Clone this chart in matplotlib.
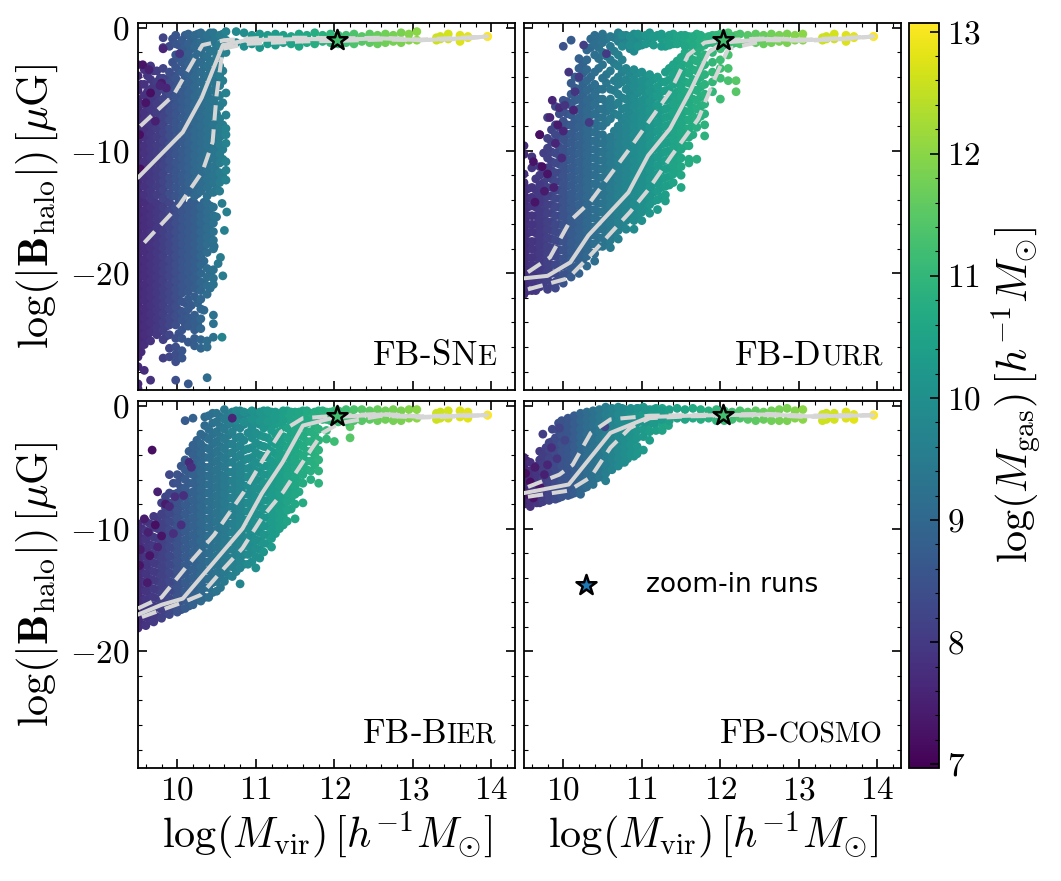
import numpy as np
import matplotlib
matplotlib.use('Agg')
import matplotlib.pyplot as plt
from matplotlib.colors import Normalize
from matplotlib.cm import ScalarMappable
from matplotlib.ticker import MultipleLocator
from matplotlib.offsetbox import TextArea, HPacker, AnchoredOffsetbox

plt.rcParams['mathtext.fontset'] = 'cm'
plt.rcParams['font.family'] = ['cmr10', 'DejaVu Sans']
plt.rcParams['axes.unicode_minus'] = False
plt.rcParams['axes.formatter.use_mathtext'] = True

GAS_MIN, GAS_MAX = 6.97, 13.07

# ------------------- FB-SNe : upper part of the cloud
sne_mass = [9.50, 9.58, 9.66, 9.74, 9.82, 9.90, 9.98, 10.06, 10.14, 10.22, 10.30, 10.38, 10.46, 10.54, 10.62]
sne_gas = [7.7, 7.85, 7.95, 8.05, 8.2, 8.4, 8.55, 8.7, 8.85, 9.0, 9.1, 9.25, 9.35, 9.5, 9.65]
sne_logb = [
    [-3.0, -3.9, -5.1, -5.8, -6.5, -7.2, -7.9, -8.5, -9.2, -9.9, -10.5, -11.2, -11.9, -12.6, -13.2, -13.9],
    [-3.4, -4.6, -5.5, -6.2, -6.9, -7.5, -8.2, -8.9, -9.6, -10.2, -10.9, -11.5, -12.2, -12.9, -13.6],
    [-3.1, -4.2, -5.0, -5.9, -6.6, -7.2, -7.9, -8.6, -9.3, -9.9, -10.6, -11.3, -11.9, -12.6, -13.3, -13.9],
    [-3.5, -4.4, -5.3, -6.2, -6.9, -7.6, -8.2, -8.9, -9.6, -10.2, -10.9, -11.6, -12.2, -12.9, -13.6],
    [-0.8, -1.6, -3.3, -4.1, -5.0, -5.8, -6.5, -7.2, -7.9, -8.5, -9.2, -9.9, -10.5, -11.2, -11.9, -12.5, -13.2, -13.9],
    [-1.5, -3.6, -4.5, -5.3, -6.1, -6.8, -7.5, -8.2, -8.8, -9.5, -10.2, -10.8, -11.5, -12.2, -12.8, -13.5],
    [-0.6, -1.3, -2.2, -3.2, -4.1, -4.9, -5.6, -6.3, -7.0, -7.7, -8.3, -9.0, -9.7, -10.3, -11.0, -11.7, -12.3, -13.0, -13.7],
    [-1.0, -1.9, -2.8, -3.6, -4.4, -5.2, -5.9, -6.6, -7.3, -8.0, -8.6, -9.3, -10.0, -10.6, -11.3, -12.0, -12.6, -13.3, -13.9],
    [-0.5, -1.3, -2.1, -2.9, -3.7, -4.5, -5.3, -6.0, -6.7, -7.4, -8.1, -8.7, -9.4, -10.1, -10.7, -11.4, -12.1, -12.7, -13.4],
    [-0.6, -1.5, -2.4, -3.2, -4.0, -4.8, -5.6, -6.3, -7.0, -7.7, -8.4, -9.0, -9.7, -10.4, -11.0, -11.7, -12.4, -13.0, -13.7],
    [-0.4, -1.2, -2.0, -2.8, -3.6, -4.4, -5.2, -5.9, -6.6, -7.3, -8.0, -8.7, -9.3, -10.0, -10.7, -11.3, -12.0, -12.7, -13.3],
    [-0.6, -1.4, -2.3, -3.1, -3.9, -4.7, -5.5, -6.2, -6.9, -7.6, -8.3, -9.0, -9.6, -10.3, -11.0, -11.6, -12.3, -13.0, -13.7],
    [-0.4, -1.1, -1.9, -2.8, -3.6, -4.4, -5.1, -5.9, -6.6, -7.2, -7.9, -8.6, -9.3, -10.0, -10.6, -11.3, -12.0, -12.6, -13.4],
    [-0.6, -1.4, -2.3, -3.1, -3.9, -4.7, -5.5, -6.4, -7.4, -8.1, -8.9, -9.5, -10.3, -11.0, -11.8, -12.6, -13.3],
    [-0.3, -1.0, -2.0, -5.3, -7.1, -8.2, -8.7, -9.4, -10.9, -11.6, -12.4],
]
sne_fill_mass = [9.54, 9.62, 9.70, 9.78, 9.86, 9.94, 10.02, 10.10, 10.18, 10.26, 10.34, 10.42, 10.50, 10.58]
sne_fill_gas = [7.8, 7.9, 8.0, 8.12, 8.3, 8.48, 8.62, 8.78, 8.92, 9.05, 9.18, 9.3, 9.42, 9.55]
sne_fill_logb = [
    [-4.6, -6.2, -6.9, -7.6, -8.2, -8.9, -9.6, -10.2, -10.9, -11.6, -12.2, -12.9, -13.6],
    [-3.9, -5.2, -5.8, -6.5, -7.1, -7.8, -8.5, -9.1, -9.8, -10.5, -11.1, -11.8, -12.4, -13.1],
    [-3.5, -4.7, -5.6, -6.3, -6.9, -7.6, -8.2, -8.9, -9.6, -10.3, -10.9, -11.6, -12.2, -12.9, -13.6],
    [-4.1, -5.0, -5.9, -6.6, -7.3, -7.9, -8.6, -9.3, -9.9, -10.6, -11.3, -11.9, -12.6, -13.3],
    [-4.2, -5.4, -6.2, -6.9, -7.5, -8.2, -8.9, -9.5, -10.2, -10.9, -11.5, -12.2, -12.8, -13.5],
    [-0.9, -2.8, -3.9, -4.7, -5.5, -6.2, -6.9, -7.6, -8.3, -9.0, -9.6, -10.3, -11.0, -11.6, -12.3, -13.0, -13.7],
    [-1.4, -2.5, -3.5, -4.5, -5.3, -6.0, -6.6, -7.3, -8.0, -8.6, -9.3, -10.0, -10.7, -11.3, -12.0, -12.6, -13.3],
    [-0.6, -1.5, -2.4, -3.2, -4.0, -4.8, -5.6, -6.3, -7.0, -7.7, -8.3, -9.0, -9.7, -10.4, -11.0, -11.7, -12.4, -13.1],
    [-0.9, -1.7, -2.6, -3.4, -4.2, -5.0, -5.7, -6.4, -7.1, -7.8, -8.5, -9.1, -9.8, -10.5, -11.2, -11.8, -12.5, -13.2],
    [-0.5, -1.2, -2.0, -2.8, -3.6, -4.4, -5.2, -6.0, -6.7, -7.4, -8.1, -8.7, -9.4, -10.1, -10.7, -11.4, -12.1, -12.8, -13.5],
    [-0.8, -1.6, -2.4, -3.2, -4.0, -4.8, -5.6, -6.3, -7.0, -7.7, -8.4, -9.0, -9.7, -10.4, -11.0, -11.7, -12.4, -13.0],
    [-0.4, -1.0, -1.9, -2.7, -3.5, -4.3, -5.1, -5.8, -6.5, -7.2, -7.9, -8.6, -9.3, -9.9, -10.6, -11.3, -12.0, -12.7, -13.4],
    [-0.7, -1.5, -2.4, -3.2, -4.0, -4.8, -5.6, -6.3, -7.0, -7.7, -8.4, -9.0, -9.7, -10.4, -11.1, -11.7, -12.4, -13.1],
    [-0.5, -1.1, -2.0, -3.5, -4.3, -6.1, -7.9, -8.7, -9.9, -10.7, -12.1],
]

# ------------------- FB-SNe : lower part of the cloud
sne_low_mass = [9.50, 9.58, 9.66, 9.74, 9.82, 9.90, 9.98, 10.06, 10.14, 10.22, 10.30, 10.38, 10.46]
sne_low_gas = [7.65, 7.75, 7.85, 7.95, 8.1, 8.25, 8.4, 8.55, 8.65, 8.78, 8.95, 9.1, 9.25]
sne_low_logb = [
    [-14.5, -15.2, -15.9, -16.5, -17.2, -17.9, -18.5, -19.2, -19.9, -20.5, -21.2, -21.9, -22.5, -23.2, -23.9, -24.5, -25.2, -26.0, -26.8, -27.6, -29.0, -29.4],
    [-14.2, -14.9, -15.6, -16.2, -16.9, -17.6, -18.2, -18.9, -19.6, -20.2, -20.9, -21.6, -22.2, -22.9, -23.6, -24.3, -25.0, -25.8, -27.9],
    [-14.6, -15.3, -15.9, -16.6, -17.3, -17.9, -18.6, -19.3, -19.9, -20.6, -21.3, -21.9, -22.6, -23.3, -24.0, -24.8, -25.5, -28.7],
    [-14.3, -15.0, -15.6, -16.3, -17.0, -17.6, -18.3, -19.0, -19.6, -20.3, -21.0, -21.6, -22.3, -23.0, -23.7, -24.4, -25.0],
    [-14.6, -15.3, -15.9, -16.6, -17.3, -17.9, -18.6, -19.3, -19.9, -20.6, -21.3, -21.9, -22.6, -23.3, -24.0, -24.6, -25.4, -26.9],
    [-14.2, -14.9, -15.6, -16.2, -16.9, -17.6, -18.2, -18.9, -19.6, -20.2, -20.9, -21.6, -22.2, -22.9, -23.6, -24.2, -25.0, -26.1, -26.8],
    [-14.6, -15.3, -15.9, -16.6, -17.3, -17.9, -18.6, -19.3, -19.9, -20.6, -21.3, -21.9, -22.7, -23.5, -24.2, -25.3, -26.0, -26.6, -27.2, -28.7],
    [-14.3, -15.0, -15.6, -16.3, -17.0, -17.6, -18.3, -19.0, -19.6, -20.3, -21.0, -21.6, -22.3, -23.1, -23.8, -24.6, -25.3, -26.3, -26.9],
    [-14.6, -15.3, -15.9, -16.6, -17.3, -17.9, -18.6, -19.3, -19.9, -20.7, -21.5, -22.1, -22.9, -23.6, -24.3, -25.6, -29.0],
    [-14.3, -15.0, -15.6, -16.3, -17.0, -17.6, -18.3, -19.0, -19.6, -20.4, -21.2, -21.9, -23.4, -24.0, -24.6, -25.3, -25.9],
    [-14.6, -15.3, -15.9, -16.6, -17.3, -17.9, -18.6, -19.3, -20.0, -20.7, -21.4, -22.1, -22.9, -23.7, -24.5, -25.4, -26.1],
    [-14.3, -15.0, -15.6, -16.3, -17.0, -17.6, -18.3, -19.6, -20.3, -21.0, -21.7, -25.5, -26.0, -28.5],
    [-14.6, -15.3, -15.9, -16.6, -17.3, -18.0, -19.7, -20.4, -20.9, -23.4, -24.1, -25.2],
]
sne_low_fill_mass = [9.54, 9.62, 9.70, 9.78, 9.86, 9.94, 10.02, 10.10, 10.18, 10.26, 10.34, 10.42]
sne_low_fill_gas = [7.7, 7.8, 7.9, 8.02, 8.18, 8.32, 8.48, 8.6, 8.72, 8.86, 9.02, 9.18]
sne_low_fill_logb = [
    [-14.2, -14.9, -15.5, -16.2, -16.9, -17.5, -18.2, -18.9, -19.5, -20.2, -20.9, -21.5, -22.2, -22.9, -23.5, -24.2, -24.8, -25.5, -26.4],
    [-14.5, -15.2, -15.9, -16.5, -17.2, -17.9, -18.5, -19.2, -19.9, -20.5, -21.2, -21.9, -22.5, -23.2, -23.9, -24.5, -25.2],
    [-14.2, -14.9, -15.5, -16.2, -16.9, -17.5, -18.2, -18.9, -19.5, -20.2, -20.9, -21.5, -22.2, -22.9, -23.5, -24.2],
    [-14.5, -15.2, -15.9, -16.5, -17.2, -17.9, -18.5, -19.2, -19.9, -20.5, -21.2, -21.9, -22.5, -23.2, -23.9, -24.7],
    [-14.2, -14.9, -15.5, -16.2, -16.9, -17.5, -18.2, -18.9, -19.5, -20.2, -20.9, -21.5, -22.2, -22.9, -23.6, -24.3, -25.1],
    [-14.5, -15.2, -15.9, -16.5, -17.2, -17.9, -18.5, -19.2, -19.9, -20.5, -21.2, -21.9, -22.5, -23.2, -23.9],
    [-14.2, -14.9, -15.5, -16.2, -16.9, -17.5, -18.2, -18.9, -19.5, -20.2, -20.9, -21.5, -22.2, -23.0, -23.7, -24.9],
    [-14.5, -15.2, -15.9, -16.5, -17.2, -17.9, -18.5, -19.2, -19.9, -20.5, -21.2, -22.4, -23.2, -24.1],
    [-14.2, -14.9, -15.5, -16.2, -16.9, -17.5, -18.2, -18.9, -19.5, -20.2, -21.0, -22.6, -23.7],
    [-14.5, -15.2, -15.9, -16.5, -17.2, -17.9, -18.5, -19.2, -19.9, -20.6, -21.3, -22.4, -24.1],
    [-14.2, -14.9, -15.5, -16.2, -16.9, -17.5, -18.2, -19.0, -20.8, -23.0],
    [-14.5, -15.2, -15.9, -16.5, -17.1, -20.0, -21.2],
]
sne_far_mass = [10.50, 10.57, 10.63, 10.55, 10.52, 10.58, 10.60, 10.57, 10.47]
sne_far_logb = [-15.4, -14.3, -15.0, -18.7, -19.2, -20.2, -16.5, -25.2, -17.8]
sne_far_gas = [9.3, 9.5, 9.6, 9.5, 9.4, 9.5, 9.6, 9.7, 9.2]
sne_dark_mass = [9.82, 10.03, 9.56, 9.80, 9.66, 9.72, 9.52, 9.60, 9.53, 9.78, 9.64, 9.86]
sne_dark_logb = [-1.7, -2.1, -3.0, -4.5, -5.3, -7.6, -8.7, -6.1, -11.5, -4.7, -3.4, -4.9]
sne_dark_gas = [7.6, 7.9, 7.3, 7.4, 7.2, 7.5, 7.2, 7.3, 7.2, 7.6, 7.5, 7.6]

# ------------------- FB-Durr
durr_mass = [9.50, 9.60, 9.70, 9.80, 9.90, 10.00, 10.10, 10.20, 10.30, 10.40, 10.50, 10.60, 10.70, 10.80, 10.90, 11.00, 11.10, 11.20, 11.30, 11.40, 11.50, 11.60, 11.70, 11.80, 11.90, 12.00, 12.10, 12.20]
durr_gas = [7.75, 7.9, 8.0, 8.15, 8.3, 8.5, 8.7, 8.85, 9.0, 9.15, 9.3, 9.45, 9.6, 9.75, 9.9, 10.0, 10.15, 10.3, 10.4, 10.5, 10.6, 10.7, 10.8, 10.9, 11.0, 11.15, 11.3, 11.45]
durr_logb = [
    [-9.6, -10.3, -11.9, -12.6, -13.5, -14.2, -15.0, -15.6, -16.4, -17.0, -17.7, -18.4, -19.0, -19.7, -20.3, -21.0, -21.7],
    [-10.5, -11.4, -13.0, -13.8, -14.5, -15.3, -16.0, -16.6, -17.4, -18.0, -18.7, -19.3, -20.0, -20.7, -21.4],
    [-8.7, -11.3, -12.0, -12.8, -13.6, -14.2, -15.0, -15.7, -16.3, -17.0, -17.7, -18.4, -19.0, -19.7, -20.4, -21.1],
    [-7.3, -9.0, -9.8, -10.6, -11.4, -12.2, -13.0, -13.7, -14.4, -15.1, -15.8, -16.4, -17.1, -17.8, -18.4, -19.1, -19.8, -20.5, -21.3],
    [-6.4, -7.9, -8.7, -9.4, -10.2, -11.0, -11.8, -12.5, -13.2, -13.9, -14.6, -15.3, -16.0, -16.6, -17.3, -18.0, -18.6, -19.3, -20.0, -20.7, -21.2],
    [-1.5, -5.9, -6.8, -7.6, -8.4, -9.1, -9.9, -10.6, -11.3, -12.0, -12.7, -13.4, -14.1, -14.8, -15.4, -16.1, -16.8, -17.4, -18.1, -18.8, -19.4, -20.1, -20.8],
    [-1.0, -4.5, -5.4, -6.3, -7.1, -7.9, -8.6, -9.3, -10.0, -10.7, -11.4, -12.1, -12.8, -13.5, -14.1, -14.8, -15.5, -16.1, -16.8, -17.5, -18.2, -18.9, -19.6, -20.3],
    [-2.5, -3.3, -4.1, -5.0, -5.8, -6.6, -7.3, -8.0, -8.8, -9.5, -10.2, -10.9, -11.6, -12.3, -13.0, -13.7, -14.4, -15.1, -15.7, -16.4, -17.1, -17.8, -18.5, -19.2, -20.0],
    [-1.8, -2.6, -3.4, -4.3, -5.1, -5.9, -6.7, -7.4, -8.2, -8.9, -9.6, -10.3, -11.0, -11.7, -12.4, -13.1, -13.8, -14.5, -15.1, -15.8, -16.5, -17.2, -17.9, -18.6, -19.4],
    [-0.6, -1.3, -2.2, -3.6, -4.6, -5.4, -6.2, -7.0, -7.8, -8.5, -9.2, -9.9, -10.6, -11.3, -12.0, -12.7, -13.4, -14.1, -14.8, -15.5, -16.2, -16.9, -17.6, -18.4, -19.0],
    [-0.5, -1.2, -2.0, -3.0, -4.1, -5.0, -5.8, -6.6, -7.3, -8.0, -8.7, -9.4, -10.1, -10.8, -11.5, -12.2, -12.9, -13.6, -14.3, -15.0, -15.7, -16.4, -17.1, -17.8],
    [-0.7, -1.5, -2.6, -3.5, -5.0, -5.8, -6.5, -7.4, -8.9, -9.6, -10.3, -11.0, -11.7, -12.4, -13.1, -13.8, -14.5, -15.2, -15.9, -16.6, -17.3, -17.9],
    [-0.4, -1.1, -2.2, -3.1, -4.0, -4.6, -5.4, -6.1, -7.1, -8.0, -8.8, -9.5, -10.2, -10.9, -11.6, -12.3, -13.0, -13.7, -14.4, -15.1, -15.8, -16.5, -17.2],
    [-0.6, -1.3, -3.3, -4.2, -5.0, -5.8, -6.5, -7.2, -8.0, -8.7, -9.4, -10.1, -10.8, -11.5, -12.2, -12.9, -13.6, -14.3, -15.0, -15.7, -16.4],
    [-0.5, -1.1, -1.9, -3.4, -4.2, -4.8, -5.7, -6.4, -7.3, -8.0, -8.7, -9.4, -10.1, -10.8, -11.5, -12.2, -12.9, -13.6, -14.3, -15.0, -15.7, -16.4],
    [-0.7, -1.4, -3.6, -4.3, -5.0, -5.9, -6.6, -7.3, -8.0, -8.7, -9.4, -10.1, -10.8, -11.5, -12.2, -12.9, -13.6, -14.3, -15.0, -15.7],
    [-0.4, -1.2, -3.8, -4.5, -5.2, -6.0, -6.7, -7.4, -8.1, -8.8, -9.5, -10.2, -10.9, -11.6, -12.3, -13.0, -13.7, -14.4, -15.1],
    [-0.6, -4.0, -4.8, -5.5, -6.3, -7.0, -7.7, -8.4, -9.1, -9.8, -10.5, -11.2, -11.9, -12.6, -13.3, -14.0, -14.8],
    [-0.8, -1.5, -3.6, -4.4, -5.1, -5.9, -6.6, -7.3, -8.0, -8.7, -9.4, -10.1, -10.8, -11.5, -12.2, -12.9, -13.6, -14.1],
    [-0.5, -1.3, -3.0, -3.8, -4.6, -5.4, -6.2, -6.9, -7.7, -8.4, -9.1, -9.8, -10.5, -11.2, -11.9, -12.6],
    [-0.6, -1.2, -2.4, -3.2, -4.0, -4.8, -5.6, -6.4, -7.1, -7.8, -8.5, -9.2, -9.9, -10.6, -11.3, -12.0, -13.0],
    [-0.7, -1.4, -2.2, -3.0, -3.7, -4.5, -5.3, -6.1, -6.8, -7.5, -8.2, -8.9, -9.6, -10.7, -11.0],
    [-0.5, -1.1, -1.9, -2.7, -3.5, -4.3, -5.1, -5.9, -6.6, -7.5, -8.1, -10.7],
    [-0.8, -1.4, -2.2, -3.0, -3.8, -4.6, -5.4, -6.2, -7.0, -7.9, -8.8],
    [-0.6, -1.2, -2.0, -2.8, -3.6, -4.4, -5.2],
    [-0.5, -1.0, -1.7, -2.6, -3.3, -4.1, -5.8],
    [-0.4, -1.1, -2.2, -3.3, -4.3],
    [-0.6, -1.2, -4.3, -5.2],
]
durr_fill_mass = [9.55, 9.65, 9.75, 9.85, 9.95, 10.05, 10.15, 10.25, 10.35, 10.45, 10.55, 10.65, 10.75, 10.85, 10.95, 11.05, 11.15, 11.25, 11.35, 11.45, 11.55, 11.65, 11.75]
durr_fill_gas = [7.82, 7.95, 8.08, 8.22, 8.4, 8.6, 8.78, 8.92, 9.08, 9.22, 9.38, 9.52, 9.68, 9.82, 9.95, 10.08, 10.22, 10.35, 10.45, 10.55, 10.65, 10.75, 10.85]
durr_fill_logb = [
    [-13.1, -13.9, -14.6, -15.3, -16.0, -16.7, -17.4, -18.0, -18.7, -19.4, -20.0, -20.7, -21.4],
    [-12.3, -13.2, -13.9, -14.6, -15.3, -16.0, -16.7, -17.4, -18.1, -18.7, -19.4, -20.1, -20.8, -21.4],
    [-10.2, -11.8, -12.6, -13.3, -14.0, -14.7, -15.4, -16.1, -16.7, -17.4, -18.1, -18.8, -19.4, -20.1, -20.8],
    [-8.3, -9.3, -10.1, -10.9, -11.6, -12.3, -13.0, -13.7, -14.4, -15.1, -15.8, -16.5, -17.2, -17.9, -18.6, -19.3, -20.0, -20.8],
    [-7.0, -8.1, -8.9, -9.7, -10.4, -11.1, -11.8, -12.5, -13.2, -13.9, -14.6, -15.3, -16.0, -16.7, -17.4, -18.1, -18.8, -19.5, -20.3],
    [-6.0, -7.0, -7.9, -8.7, -9.4, -10.1, -10.8, -11.5, -12.2, -12.9, -13.6, -14.3, -15.0, -15.7, -16.4, -17.1, -17.8, -18.5, -19.2, -20.0],
    [-4.0, -4.9, -5.9, -6.7, -7.5, -8.2, -8.9, -9.6, -10.3, -11.0, -11.7, -12.4, -13.1, -13.8, -14.5, -15.2, -15.9, -16.6, -17.3, -18.0, -18.7, -19.5],
    [-2.9, -3.7, -4.6, -5.4, -6.2, -7.0, -7.7, -8.4, -9.1, -9.8, -10.5, -11.2, -11.9, -12.6, -13.3, -14.0, -14.7, -15.4, -16.1, -16.8, -17.5, -18.2, -18.9],
    [-0.9, -1.6, -4.0, -4.9, -5.7, -6.4, -7.1, -7.8, -8.5, -9.2, -9.9, -10.6, -11.3, -12.0, -12.7, -13.4, -14.1, -14.8, -15.5, -16.2, -16.9, -17.6, -18.3],
    [-0.8, -1.6, -2.5, -3.3, -5.0, -5.8, -6.6, -7.3, -8.0, -8.7, -9.4, -10.1, -10.8, -11.5, -12.2, -12.9, -13.6, -14.3, -15.0, -15.7, -16.4, -17.1, -17.8],
    [-0.9, -2.3, -3.8, -4.5, -6.1, -6.8, -7.7, -9.1, -9.8, -10.5, -11.2, -11.9, -12.6, -13.3, -14.0, -14.7, -15.4, -16.1, -16.8, -17.4],
    [-0.8, -1.9, -2.9, -4.3, -5.1, -6.3, -7.0, -8.4, -9.3, -10.0, -10.7, -11.4, -12.1, -12.8, -13.5, -14.2, -14.9, -15.6, -16.3, -16.9],
    [-0.9, -2.6, -3.6, -4.4, -5.7, -6.6, -7.5, -8.4, -9.1, -9.8, -10.5, -11.2, -11.9, -12.6, -13.3, -14.0, -14.7, -15.4, -16.1],
    [-0.8, -1.7, -3.7, -4.5, -5.3, -6.1, -6.9, -7.6, -8.3, -9.0, -9.7, -10.4, -11.1, -11.8, -12.5, -13.2, -13.9, -14.6, -15.4],
    [-0.9, -3.7, -4.5, -5.3, -6.1, -6.9, -7.6, -8.3, -9.0, -9.7, -10.4, -11.1, -11.8, -12.5, -13.2, -13.9, -14.6, -15.3],
    [-0.7, -4.0, -4.7, -5.5, -6.3, -7.0, -7.7, -8.4, -9.1, -9.8, -10.5, -11.2, -11.9, -12.6, -13.3, -14.0, -14.7],
    [-0.8, -4.2, -5.0, -5.7, -6.4, -7.1, -7.8, -8.5, -9.2, -9.9, -10.6, -11.3, -12.0, -12.7, -13.4, -14.1],
    [-0.9, -4.4, -5.2, -5.9, -6.7, -7.4, -8.1, -8.8, -9.5, -10.2, -10.9, -11.6, -12.3, -13.0, -13.8],
    [-1.0, -3.3, -4.2, -5.0, -5.8, -6.5, -7.2, -7.9, -8.6, -9.3, -10.0, -10.7, -11.4, -12.1, -12.8],
    [-0.9, -2.7, -3.5, -4.4, -5.2, -5.9, -6.6, -7.3, -8.0, -8.8, -9.5, -10.2, -10.9, -11.6],
    [-1.0, -2.0, -2.8, -3.6, -4.4, -5.2, -6.0, -6.8, -7.5, -8.2, -8.9, -9.6],
    [-1.0, -1.8, -2.6, -3.4, -4.2, -5.0, -5.8, -6.5, -7.2, -7.9, -8.7],
    [-0.9, -1.6, -2.4, -3.2, -4.0, -4.8, -5.6, -6.4, -7.2],
]
durr_dark_mass = [9.70, 9.86, 9.95, 10.00, 10.07, 10.15, 10.20, 10.13, 10.33, 10.26, 9.83, 9.93, 9.62, 9.73, 9.80, 9.90, 9.98, 9.64, 9.76, 9.88, 10.55, 10.02]
durr_dark_logb = [-8.7, -5.9, -6.5, -8.4, -3.6, -5.2, -4.0, -6.7, -7.7, -1.4, -7.3, -7.9, -10.9, -11.3, -11.9, -9.4, -10.6, -14.2, -13.3, -13.0, -2.1, -6.3]
durr_dark_gas = [7.2, 7.6, 7.7, 7.6, 7.9, 7.9, 8.0, 7.6, 8.0, 8.1, 7.6, 7.4, 7.3, 7.2, 7.3, 7.6, 7.7, 7.3, 7.4, 7.5, 8.0, 7.9]

# ------------------- FB-Bier
bier_mass = [9.50, 9.60, 9.70, 9.80, 9.90, 10.00, 10.10, 10.20, 10.30, 10.40, 10.50, 10.60, 10.70, 10.80, 10.90, 11.00, 11.10, 11.20, 11.30, 11.40, 11.50, 11.60, 11.70, 11.80, 11.90, 12.00, 12.10, 12.20]
bier_gas = [7.75, 7.9, 8.0, 8.15, 8.3, 8.5, 8.7, 8.85, 9.0, 9.15, 9.3, 9.45, 9.6, 9.75, 9.9, 10.0, 10.15, 10.3, 10.4, 10.5, 10.6, 10.7, 10.8, 10.9, 11.0, 11.15, 11.3, 11.45]
bier_logb = [
    [-9.6, -10.4, -11.1, -11.8, -12.5, -13.2, -13.9, -14.6, -15.3, -16.0, -16.7, -17.4, -18.1],
    [-9.4, -10.2, -10.9, -11.6, -12.3, -13.0, -13.7, -14.4, -15.1, -15.8, -16.5, -17.2, -17.9],
    [-9.0, -9.9, -10.7, -11.4, -12.1, -12.8, -13.5, -14.2, -14.9, -15.6, -16.3, -17.0, -17.6],
    [-7.9, -8.8, -9.6, -10.3, -11.0, -11.7, -12.4, -13.1, -13.8, -14.5, -15.2, -15.9, -16.6, -17.3],
    [-5.6, -7.1, -7.9, -8.7, -9.4, -10.1, -10.8, -11.5, -12.2, -12.9, -13.6, -14.3, -15.0, -15.7, -16.4, -17.0],
    [-5.6, -6.3, -7.1, -7.8, -8.5, -9.2, -9.9, -10.6, -11.3, -12.0, -12.7, -13.4, -14.1, -14.8, -15.5, -16.2, -16.8],
    [-1.2, -4.4, -5.2, -6.0, -6.7, -7.4, -8.1, -8.8, -9.5, -10.2, -10.9, -11.6, -12.3, -13.0, -13.7, -14.4, -15.1, -15.8, -16.5],
    [-1.0, -3.2, -4.0, -4.8, -5.6, -6.3, -7.0, -7.7, -8.4, -9.1, -9.8, -10.5, -11.2, -11.9, -12.6, -13.3, -14.0, -14.7, -15.4, -16.2],
    [-2.3, -3.1, -3.9, -4.7, -5.4, -6.1, -6.8, -7.5, -8.2, -8.9, -9.6, -10.3, -11.0, -11.7, -12.4, -13.1, -13.8, -14.5, -15.2, -15.9],
    [-0.8, -1.9, -2.7, -3.5, -4.2, -5.0, -5.7, -6.4, -7.1, -7.8, -8.5, -9.2, -9.9, -10.6, -11.3, -12.0, -12.7, -13.4, -14.1, -14.8, -15.6],
    [-0.6, -1.3, -2.1, -2.9, -3.7, -4.5, -5.2, -5.9, -6.6, -7.3, -8.0, -8.7, -9.4, -10.1, -10.8, -11.5, -12.2, -12.9, -13.6, -14.3, -15.1],
    [-0.3, -1.1, -1.9, -2.7, -3.5, -4.3, -5.0, -5.8, -6.5, -7.2, -7.9, -8.6, -9.3, -10.0, -10.7, -11.4, -12.1, -12.8, -13.5, -14.3],
    [-0.5, -1.3, -2.1, -3.1, -3.8, -4.6, -5.4, -6.1, -6.8, -7.5, -8.2, -8.9, -9.6, -10.3, -11.0, -11.7, -12.4, -13.1, -13.9],
    [-0.4, -1.0, -1.8, -2.5, -3.2, -4.0, -4.8, -5.5, -6.2, -6.9, -7.6, -8.3, -9.0, -9.7, -10.4, -11.1, -11.8, -12.5, -13.2, -14.5],
    [-0.6, -1.3, -2.2, -3.5, -4.3, -5.1, -5.8, -6.5, -7.2, -7.9, -8.6, -9.3, -10.0, -10.7, -11.4, -12.1, -12.9],
    [-0.7, -1.4, -2.2, -3.0, -3.8, -4.6, -5.3, -6.0, -6.7, -7.4, -8.1, -8.8, -9.5, -10.2, -10.9, -11.6, -12.3, -13.2],
    [-0.4, -1.1, -1.8, -2.5, -3.3, -4.1, -4.9, -5.6, -6.3, -7.0, -7.7, -8.4, -9.1, -9.8, -10.5, -11.2, -11.9],
    [-0.5, -1.2, -2.0, -2.9, -3.7, -4.5, -5.2, -5.9, -6.6, -7.3, -8.0, -8.7, -9.4, -10.1, -10.8, -11.5],
    [-0.6, -1.3, -2.1, -2.8, -3.6, -4.3, -5.1, -5.8, -6.5, -7.2, -7.9, -8.6, -9.3, -10.0],
    [-0.4, -1.0, -1.8, -2.6, -3.4, -4.2, -5.0, -5.7, -6.4, -7.1, -7.8, -8.5, -9.4],
    [-0.5, -1.1, -1.9, -2.7, -3.5, -4.3, -5.1, -5.8, -6.5, -7.2, -8.0, -9.2],
    [-0.4, -1.0, -1.7, -2.5, -3.3, -4.1, -4.9, -5.6, -6.3, -7.9],
    [-0.6, -1.2, -2.1, -2.9, -3.7, -4.5, -5.3, -6.0],
    [-0.4, -1.0, -1.9, -2.8, -3.6, -4.4, -5.3, -6.3],
    [-0.5, -1.1, -2.0, -2.7],
    [-0.4, -1.0, -2.9],
    [-0.5, -1.1],
    [-0.6, -1.2, -1.7, -2.6],
]
bier_fill_mass = [9.55, 9.65, 9.75, 9.85, 9.95, 10.05, 10.15, 10.25, 10.35, 10.45, 10.55, 10.65, 10.75, 10.85, 10.95, 11.05, 11.15, 11.25, 11.35, 11.45, 11.55, 11.65, 11.75]
bier_fill_gas = [7.82, 7.95, 8.08, 8.22, 8.4, 8.6, 8.78, 8.92, 9.08, 9.22, 9.38, 9.52, 9.68, 9.82, 9.95, 10.08, 10.22, 10.35, 10.45, 10.55, 10.65, 10.75, 10.85]
bier_fill_logb = [
    [-10.0, -10.8, -11.5, -12.2, -12.9, -13.6, -14.3, -15.0, -15.7, -16.4, -17.1, -17.8],
    [-9.6, -10.5, -11.3, -12.0, -12.7, -13.4, -14.1, -14.8, -15.5, -16.2, -16.9, -17.5],
    [-9.1, -10.0, -10.8, -11.5, -12.2, -12.9, -13.6, -14.3, -15.0, -15.7, -16.4, -17.2],
    [-7.4, -8.3, -9.1, -9.8, -10.5, -11.2, -11.9, -12.6, -13.3, -14.0, -14.7, -15.4, -16.1, -16.9],
    [-6.3, -7.2, -8.1, -8.8, -9.5, -10.2, -10.9, -11.6, -12.3, -13.0, -13.7, -14.4, -15.1, -15.8, -16.6],
    [-4.9, -5.8, -6.7, -7.5, -8.2, -8.9, -9.6, -10.3, -11.0, -11.7, -12.4, -13.1, -13.8, -14.5, -15.2, -15.9, -16.6],
    [-3.7, -4.6, -5.5, -6.3, -7.1, -7.8, -8.5, -9.2, -9.9, -10.6, -11.3, -12.0, -12.7, -13.4, -14.1, -14.8, -15.5, -16.3],
    [-2.8, -3.6, -4.4, -5.2, -5.9, -6.6, -7.3, -8.0, -8.7, -9.4, -10.1, -10.8, -11.5, -12.2, -12.9, -13.6, -14.3, -15.0, -15.8],
    [-0.9, -1.6, -2.5, -3.4, -4.2, -5.0, -5.7, -6.4, -7.1, -7.8, -8.5, -9.2, -9.9, -10.6, -11.3, -12.0, -12.7, -13.4, -14.1, -14.8, -15.6],
    [-0.6, -1.4, -2.3, -3.1, -3.9, -4.6, -5.3, -6.0, -6.7, -7.4, -8.1, -8.8, -9.5, -10.2, -10.9, -11.6, -12.3, -13.0, -13.7, -14.4, -15.2],
    [-0.9, -1.7, -2.5, -3.3, -4.1, -4.9, -5.6, -6.3, -7.0, -7.7, -8.4, -9.1, -9.8, -10.5, -11.2, -11.9, -12.6, -13.3, -14.0, -14.8],
    [-0.7, -1.5, -2.4, -3.1, -3.9, -4.6, -5.4, -6.1, -6.8, -7.5, -8.2, -8.9, -9.6, -10.3, -11.0, -11.7, -12.4, -13.1, -13.8],
    [-0.9, -1.7, -2.6, -3.4, -4.2, -5.0, -5.7, -6.4, -7.1, -7.8, -8.5, -9.2, -9.9, -10.6, -11.3, -12.0, -12.7, -13.5],
    [-0.7, -1.5, -2.8, -3.6, -4.4, -5.1, -5.8, -6.5, -7.2, -7.9, -8.6, -9.3, -10.0, -10.7, -11.4, -12.1, -12.9],
    [-0.9, -1.8, -2.6, -3.4, -4.2, -4.9, -5.6, -6.3, -7.0, -7.7, -8.4, -9.1, -9.8, -10.5, -11.2, -11.9, -12.7],
    [-0.8, -1.5, -2.4, -3.2, -4.0, -4.7, -5.4, -6.1, -6.8, -7.5, -8.2, -8.9, -9.6, -10.3, -11.0, -11.7, -12.4],
    [-0.9, -1.6, -2.6, -3.4, -4.2, -4.9, -5.6, -6.3, -7.0, -7.7, -8.4, -9.1, -9.8, -10.5, -11.2],
    [-0.8, -1.5, -2.3, -3.1, -3.9, -4.7, -5.5, -6.2, -6.9, -7.6, -8.3, -9.0, -9.7, -10.4],
    [-0.9, -1.7, -2.5, -3.2, -4.0, -4.8, -5.5, -6.2, -6.9, -7.6, -8.3, -9.0, -9.7],
    [-0.7, -1.4, -2.2, -3.0, -3.8, -4.6, -5.4, -6.1, -6.8, -7.5, -8.4],
    [-0.8, -1.5, -2.3, -3.1, -3.9, -4.7, -5.5, -6.2, -7.0],
    [-0.7, -1.4, -2.1, -2.9, -3.7, -4.5, -5.2],
    [-0.9, -1.6, -2.4, -3.2, -4.0, -4.8],
]
bier_dark_mass = [9.68, 10.15, 10.18, 9.75, 9.85, 9.97, 9.58, 9.72, 9.63, 10.08, 9.90, 9.80, 9.53, 9.65, 9.75, 10.70, 9.95, 10.05, 9.62, 9.52]
bier_dark_logb = [-3.6, -4.6, -5.0, -7.0, -8.0, -7.4, -9.2, -9.7, -10.3, -7.3, -8.2, -10.6, -11.7, -12.2, -11.5, -1.0, -10.4, -9.7, -14.4, -13.0]
bier_dark_gas = [7.2, 7.7, 7.8, 7.5, 7.4, 7.8, 7.4, 7.2, 7.5, 7.8, 7.7, 7.3, 7.4, 7.3, 7.6, 7.6, 7.8, 7.8, 7.4, 7.3]

# ------------------- FB-cosmo
cosmo_mass = [9.50, 9.58, 9.66, 9.74, 9.82, 9.90, 9.98, 10.06, 10.14, 10.22, 10.30, 10.38, 10.46, 10.54, 10.62, 10.70, 10.78, 10.86, 10.94, 11.02, 11.10, 11.18, 11.26, 11.34]
cosmo_gas = [7.6, 7.8, 7.9, 8.05, 8.2, 8.35, 8.5, 8.6, 8.75, 8.95, 9.1, 9.25, 9.4, 9.55, 9.7, 9.85, 9.95, 10.05, 10.15, 10.25, 10.35, 10.4, 10.5, 10.55]
cosmo_logb = [
    [-4.2, -5.0, -5.6, -6.2, -6.8, -7.4, -8.0],
    [-4.6, -5.3, -5.9, -6.5, -7.1, -7.7, -8.2],
    [-4.9, -5.5, -6.1, -6.7, -7.3, -7.9],
    [-2.3, -4.0, -4.7, -5.3, -5.9, -6.5, -7.1, -7.8],
    [-3.0, -3.6, -4.3, -4.9, -5.5, -6.1, -6.7, -7.3, -7.7],
    [-2.6, -3.2, -3.9, -4.5, -5.1, -5.7, -6.3, -6.9, -7.6],
    [-1.2, -1.8, -2.4, -3.1, -3.7, -4.3, -4.9, -5.5, -6.1, -6.7, -7.4],
    [-1.0, -1.6, -2.2, -2.9, -3.5, -4.1, -4.7, -5.3, -5.9, -6.5, -7.3],
    [-0.8, -1.4, -2.0, -2.6, -3.3, -3.9, -4.5, -5.1, -5.7, -6.3, -7.1],
    [-0.6, -1.2, -1.9, -2.5, -3.1, -3.7, -4.3, -4.9, -5.5, -6.1, -6.8, -7.2],
    [-0.5, -1.1, -1.7, -2.3, -2.9, -3.5, -4.1, -4.7, -5.3, -5.9, -6.6],
    [-0.4, -1.0, -1.6, -2.2, -2.8, -3.4, -4.0, -4.6, -5.2, -5.8, -6.4],
    [-0.3, -0.9, -1.5, -2.1, -2.7, -3.3, -3.9, -4.5, -5.1, -5.8],
    [-0.1, -0.7, -1.3, -1.9, -2.5, -3.1, -3.7, -4.3, -4.9, -5.5, -6.1],
    [-0.2, -0.8, -1.4, -2.0, -2.6, -3.2, -3.8, -4.4, -5.2],
    [-0.1, -0.7, -1.3, -1.9, -2.5, -3.1, -3.7, -4.3, -4.9],
    [-0.3, -0.9, -1.5, -2.1, -2.7, -3.3, -3.9, -4.6],
    [-0.2, -0.8, -1.4, -2.0, -2.6, -3.2, -3.9],
    [-0.2, -0.8, -1.4, -2.0, -2.6, -3.3, -3.9],
    [-0.1, -0.7, -1.3, -1.9, -2.5, -3.6],
    [-0.3, -0.9, -1.5, -2.1, -2.8],
    [-0.2, -0.8, -1.4, -2.0],
    [-0.2, -0.8, -1.5, -2.0],
    [-0.4, -1.0, -1.6],
]
cosmo_fill_mass = [9.54, 9.62, 9.70, 9.78, 9.86, 9.94, 10.02, 10.10, 10.18, 10.26, 10.34, 10.42, 10.50, 10.58, 10.66, 10.74, 10.82, 10.90]
cosmo_fill_gas = [7.7, 7.85, 8.0, 8.12, 8.28, 8.42, 8.55, 8.68, 8.85, 9.02, 9.18, 9.32, 9.48, 9.62, 9.78, 9.9, 10.0, 10.1]
cosmo_fill_logb = [
    [-4.5, -5.3, -6.0, -6.6, -7.2, -7.8],
    [-5.2, -5.8, -6.4, -7.0, -7.6],
    [-3.7, -4.4, -5.0, -5.6, -6.2, -6.8, -7.4, -7.9],
    [-3.4, -4.0, -4.6, -5.2, -5.8, -6.4, -7.0, -7.6],
    [-1.9, -2.9, -3.5, -4.1, -4.7, -5.3, -5.9, -6.5, -7.1],
    [-1.4, -2.0, -2.7, -3.3, -3.9, -4.5, -5.1, -5.7, -6.3, -6.9, -7.5],
    [-1.3, -1.9, -2.5, -3.1, -3.8, -4.4, -5.0, -5.6, -6.2, -6.8],
    [-1.1, -1.7, -2.3, -2.9, -3.5, -4.1, -4.8, -5.4, -6.0, -6.6, -7.2],
    [-0.9, -1.5, -2.1, -2.8, -3.4, -4.0, -4.6, -5.2, -5.8, -6.4, -7.0],
    [-0.8, -1.4, -2.0, -2.6, -3.2, -3.8, -4.4, -5.0, -5.6, -6.2, -6.7],
    [-0.7, -1.3, -1.9, -2.5, -3.1, -3.7, -4.3, -4.9, -5.5, -6.1],
    [-0.5, -1.1, -1.7, -2.3, -2.9, -3.5, -4.1, -4.7, -5.3, -5.9],
    [-0.4, -1.0, -1.6, -2.2, -2.8, -3.4, -4.0, -4.6, -5.2, -5.8],
    [-0.4, -1.0, -1.6, -2.2, -2.8, -3.4, -4.0, -4.6, -5.2],
    [-0.5, -1.1, -1.7, -2.3, -2.9, -3.5, -4.1, -4.7],
    [-0.4, -1.0, -1.6, -2.2, -2.8, -3.4, -4.0, -4.6],
    [-0.6, -1.2, -1.8, -2.4, -3.0, -3.6, -4.3],
    [-0.5, -1.1, -1.7, -2.3, -2.9, -3.5, -4.1],
]
cosmo_dark_mass = [9.52, 9.58, 9.64, 9.70, 9.76, 9.85, 9.92, 9.53, 9.62, 9.80, 10.53, 9.95, 10.02]
cosmo_dark_logb = [-5.5, -6.2, -5.0, -6.6, -5.6, -3.4, -4.3, -7.2, -7.5, -4.8, -1.7, -1.8, -2.8]
cosmo_dark_gas = [7.2, 7.2, 7.4, 7.3, 7.5, 7.8, 7.9, 7.3, 7.3, 7.6, 8.2, 8.2, 8.2]

# ------------------- massive end, per panel (upper and lower edge of the narrow band)
band_mass = [10.75, 10.85, 10.95, 11.05, 11.15, 11.25, 11.35, 11.45, 11.55, 11.65, 11.75, 11.85, 11.95, 12.05, 12.15, 12.25, 12.35, 12.45, 12.55, 12.65, 12.75, 12.85, 12.95, 13.05, 13.30, 13.35, 13.45, 13.60, 13.70, 13.95]
band_gas = [9.85, 9.95, 10.05, 10.15, 10.25, 10.3, 10.4, 10.5, 10.55, 10.65, 10.75, 10.85, 10.95, 11.1, 11.2, 11.35, 11.45, 11.55, 11.65, 11.75, 11.8, 11.85, 11.95, 12.0, 12.6, 12.6, 12.65, 12.75, 12.8, 13.07]
sne_band_up = [-0.3, -0.4, -0.6, -0.5, -0.6, -0.5, -0.6, -0.7, -0.5, -0.6, -0.4, -0.6, -0.5, -0.6, -0.6, -0.5, -0.7, -0.5, -0.6, -0.5, -0.6, -0.4, -0.5, -0.3, -0.8, -0.7, -0.5, -0.6, -0.7, -0.7]
sne_band_lo = [-1.2, -1.5, -1.3, -1.6, -1.3, -1.4, -1.2, -1.3, -1.5, -1.2, -1.3, -1.1, -1.2, -1.3, -1.2, -1.3, -1.1, -1.2, -1.3, -1.2, -1.1, -1.2, -1.0, -1.0, -1.0, -0.9, -0.9, -1.1, -0.8, -0.7]
durr_band_up = [-0.6, -0.7, -0.5, -0.6, -0.7, -0.5, -0.6, -0.7, -0.6, -0.7, -0.6, -0.7, -0.6, -0.6, -0.7, -0.5, -0.6, -0.5, -0.6, -0.5, -0.6, -0.5, -0.6, -0.5, -0.8, -0.7, -0.5, -0.6, -0.7, -0.7]
durr_band_lo = [-1.5, -1.4, -1.5, -1.3, -1.4, -1.5, -1.4, -1.3, -1.5, -1.4, -1.3, -1.2, -1.3, -1.4, -1.3, -1.3, -1.1, -1.2, -1.3, -1.2, -1.1, -1.2, -1.0, -1.0, -1.0, -0.9, -0.9, -1.1, -0.8, -0.7]
bier_band_up = [-0.4, -0.5, -0.4, -0.5, -0.4, -0.5, -0.4, -0.5, -0.5, -0.4, -0.5, -0.4, -0.5, -0.4, -0.3, -0.3, -0.3, -0.4, -0.3, -0.4, -0.3, -0.4, -0.3, -0.3, -0.6, -0.5, -0.4, -0.4, -0.5, -0.75]
bier_band_lo = [-1.2, -1.3, -1.1, -1.2, -1.3, -1.1, -1.2, -1.3, -1.1, -1.2, -1.0, -1.1, -1.2, -1.3, -1.3, -1.2, -1.2, -1.1, -1.2, -1.1, -1.2, -1.2, -1.0, -1.0, -1.1, -1.0, -1.0, -0.9, -1.0, -0.75]
cosmo_band_up = [-0.2, -0.3, -0.2, -0.3, -0.3, -0.4, -0.3, -0.2, -0.3, -0.2, -0.3, -0.4, -0.3, -0.4, -0.5, -0.4, -0.5, -0.4, -0.5, -0.4, -0.3, -0.2, -0.4, -0.3, -0.7, -0.6, -0.6, -0.5, -0.7, -0.75]
cosmo_band_lo = [-1.0, -1.1, -1.2, -1.3, -1.4, -1.1, -1.2, -1.0, -1.1, -1.0, -1.1, -1.0, -1.2, -1.2, -1.1, -1.0, -1.1, -1.2, -1.1, -1.2, -1.2, -1.2, -1.0, -1.1, -1.2, -1.1, -1.1, -1.0, -1.1, -0.75]

# ------------------- median and percentile curves, read panel by panel
sne_med_x = [9.50, 10.07, 10.31, 10.58, 10.88, 11.6, 12.1, 12.6, 13.1, 13.6, 13.95]
sne_med_y = [-12.2, -8.5, -5.7, -1.4, -1.0, -0.9, -0.95, -0.85, -1.0, -0.85, -0.7]
sne_up_x = [9.53, 9.95, 10.32, 10.60, 11.1, 11.6, 12.1, 12.6, 13.1, 13.6, 13.95]
sne_up_y = [-8.0, -5.5, -1.4, -1.0, -0.8, -0.8, -0.85, -0.8, -0.95, -0.8, -0.7]
sne_lo_x = [9.58, 10.03, 10.32, 10.45, 10.50, 10.58, 10.88, 11.6, 12.1, 12.6, 13.1, 13.6, 13.95]
sne_lo_y = [-17.5, -14.4, -11.7, -9.3, -5.5, -1.7, -1.3, -1.1, -1.05, -0.95, -1.0, -0.9, -0.7]

durr_med_x = [9.50, 9.80, 10.09, 10.32, 10.83, 11.08, 11.36, 11.62, 11.85, 12.03, 12.6, 13.1, 13.6, 13.95]
durr_med_y = [-20.4, -20.2, -19.1, -16.9, -13.4, -10.4, -8.2, -5.1, -2.0, -1.2, -0.9, -1.0, -0.85, -0.7]
durr_up_x = [9.55, 9.83, 10.09, 10.34, 10.85, 11.36, 11.59, 11.80, 12.0, 12.6, 13.1, 13.6, 13.95]
durr_up_y = [-19.9, -18.7, -15.7, -14.2, -9.8, -5.2, -2.2, -1.2, -1.0, -0.85, -0.95, -0.8, -0.7]
durr_lo_x = [9.55, 10.06, 10.32, 10.85, 11.08, 11.38, 11.72, 11.93, 12.10, 12.6, 13.1, 13.6, 13.95]
durr_lo_y = [-21.3, -20.4, -18.7, -15.0, -13.2, -10.4, -7.4, -4.1, -1.7, -1.0, -1.05, -0.9, -0.7]

bier_med_x = [9.50, 9.80, 10.07, 10.83, 11.08, 11.34, 11.60, 12.03, 12.6, 13.1, 13.6, 13.95]
bier_med_y = [-17.0, -16.2, -15.7, -10.0, -7.1, -4.6, -1.6, -0.9, -0.7, -0.9, -0.8, -0.75]
bier_up_x = [9.50, 9.80, 10.13, 10.47, 10.85, 11.10, 11.32, 11.60, 12.03, 12.6, 13.1, 13.6, 13.95]
bier_up_y = [-16.5, -15.6, -13.0, -10.5, -7.0, -4.3, -2.1, -1.0, -0.8, -0.65, -0.85, -0.75, -0.75]
bier_lo_x = [9.55, 10.07, 10.30, 10.60, 10.83, 11.08, 11.35, 11.72, 11.85, 12.07, 12.6, 13.1, 13.6, 13.95]
bier_lo_y = [-17.2, -16.0, -15.4, -13.2, -11.6, -9.1, -7.0, -3.4, -2.2, -1.4, -0.8, -0.95, -0.85, -0.75]

cosmo_med_x = [9.50, 10.07, 10.60, 11.10, 11.6, 12.03, 12.6, 13.1, 13.6, 13.95]
cosmo_med_y = [-7.1, -6.4, -2.2, -0.9, -0.8, -0.75, -0.7, -0.85, -0.8, -0.75]
cosmo_up_x = [9.55, 9.95, 10.12, 10.35, 10.60, 11.10, 11.6, 12.03, 12.6, 13.1, 13.6, 13.95]
cosmo_up_y = [-6.6, -5.6, -4.8, -2.2, -1.1, -0.8, -0.75, -0.7, -0.65, -0.8, -0.75, -0.75]
cosmo_lo_x = [9.55, 10.07, 10.35, 10.60, 10.85, 11.10, 11.6, 12.03, 12.6, 13.1, 13.6, 13.95]
cosmo_lo_y = [-7.4, -6.9, -5.8, -3.4, -1.8, -1.0, -0.85, -0.8, -0.75, -0.9, -0.85, -0.75]

# ------------------- stars
star_mass = [12.03, 12.03, 12.03, 12.03]
star_logb = [-1.0, -1.0, -0.8, -0.75]
star_gas = [11.25, 11.25, 11.25, 11.25]


def columns(mass, gas, logb):
    xs, ys, gs = [], [], []
    for m, g, col in zip(mass, gas, logb):
        for b in col:
            xs.append(m)
            ys.append(b)
            gs.append(g)
    return xs, ys, gs


norm = Normalize(GAS_MIN, GAS_MAX)
W, H = 1061, 881
fig = plt.figure(figsize=(W / 100, H / 100), dpi=100)


def make_axes(l, t, r, b):
    return fig.add_axes([l / W, 1 - b / H, (r - l) / W, (b - t) / H])


ax_sne = make_axes(138, 23, 515, 390)
ax_durr = make_axes(524, 23, 901, 390)
ax_bier = make_axes(138, 401, 515, 768)
ax_cosmo = make_axes(524, 401, 901, 768)
cax = make_axes(909, 23, 939, 768)

MS = 40
panels = [
    (ax_sne, [(sne_low_fill_mass, sne_low_fill_gas, sne_low_fill_logb), (sne_low_mass, sne_low_gas, sne_low_logb),
              (sne_fill_mass, sne_fill_gas, sne_fill_logb), (sne_mass, sne_gas, sne_logb)],
     [(sne_far_mass, sne_far_logb, sne_far_gas), (sne_dark_mass, sne_dark_logb, sne_dark_gas)],
     (sne_band_up, sne_band_lo), (sne_med_x, sne_med_y), (sne_up_x, sne_up_y), (sne_lo_x, sne_lo_y), 0),
    (ax_durr, [(durr_fill_mass, durr_fill_gas, durr_fill_logb), (durr_mass, durr_gas, durr_logb)],
     [(durr_dark_mass, durr_dark_logb, durr_dark_gas)],
     (durr_band_up, durr_band_lo), (durr_med_x, durr_med_y), (durr_up_x, durr_up_y), (durr_lo_x, durr_lo_y), 1),
    (ax_bier, [(bier_fill_mass, bier_fill_gas, bier_fill_logb), (bier_mass, bier_gas, bier_logb)],
     [(bier_dark_mass, bier_dark_logb, bier_dark_gas)],
     (bier_band_up, bier_band_lo), (bier_med_x, bier_med_y), (bier_up_x, bier_up_y), (bier_lo_x, bier_lo_y), 2),
    (ax_cosmo, [(cosmo_fill_mass, cosmo_fill_gas, cosmo_fill_logb), (cosmo_mass, cosmo_gas, cosmo_logb)],
     [(cosmo_dark_mass, cosmo_dark_logb, cosmo_dark_gas)],
     (cosmo_band_up, cosmo_band_lo), (cosmo_med_x, cosmo_med_y), (cosmo_up_x, cosmo_up_y), (cosmo_lo_x, cosmo_lo_y), 3),
]
LINE = '#d6d6d6'
for ax, tables, extras, band, med, up, lo, i in panels:
    for m, g, c in tables:
        xs, ys, gs = columns(m, g, c)
        ax.scatter(xs, ys, c=gs, s=MS, cmap='viridis', norm=norm, linewidths=0, zorder=2)
    ax.scatter(band_mass, band[0], c=band_gas, s=MS, cmap='viridis', norm=norm, linewidths=0, zorder=2)
    ax.scatter(band_mass, band[1], c=band_gas, s=MS, cmap='viridis', norm=norm, linewidths=0, zorder=2)
    for x, y, g in extras:
        ax.scatter(x, y, c=g, s=MS, cmap='viridis', norm=norm, linewidths=0, zorder=2)
    ax.plot(med[0], med[1], color=LINE, lw=2.9, zorder=3, solid_capstyle='round')
    ax.plot(up[0], up[1], color=LINE, lw=2.9, ls=(0, (3.8, 2.2)), zorder=3)
    ax.plot(lo[0], lo[1], color=LINE, lw=2.9, ls=(0, (3.8, 2.2)), zorder=3)
    ax.scatter([star_mass[i]], [star_logb[i]], c=[star_gas[i]], s=230, marker='*', cmap='viridis', norm=norm,
               edgecolors='k', linewidths=1.8, zorder=4)
    ax.set_xlim(9.5, 14.3)
    ax.set_ylim(-29.5, 0.4)
    ax.set_xticks([10, 11, 12, 13, 14])
    ax.set_yticks([-20, -10, 0])
    ax.xaxis.set_minor_locator(MultipleLocator(0.2))
    ax.yaxis.set_minor_locator(MultipleLocator(2))
    ax.tick_params(which='major', direction='in', top=True, right=True, length=6.5, width=1.2)
    ax.tick_params(which='minor', direction='in', top=True, right=True, length=3.2, width=0.8)
    ax.tick_params(axis='both', which='major', labelsize=24)
    for s in ax.spines.values():
        s.set_linewidth(1.3)
    ax.set_xticklabels(['$10$', '$11$', '$12$', '$13$', '$14$'] if i >= 2 else [])
    ax.set_yticklabels(['$-20$', '$-10$', '$0$'] if i in (0, 2) else [])
    ax.tick_params(axis='both', which='major', pad=6)
    if i >= 2:
        ax.set_xlabel(r'$\log(M_{\rm vir})\,[h^{-1}M_{\odot}]$', fontsize=30.5, labelpad=3)
    if i in (0, 2):
        ax.set_ylabel(r'$\log(|\mathbf{B}_{\rm halo}|)\,[\mu{\rm G}]$', fontsize=30.5, labelpad=6)

BIG, SMALL = 25, 20


def caption(ax, parts):
    boxes = [TextArea(t, textprops=dict(fontsize=BIG if big else SMALL, family=['cmr10'])) for t, big in parts]
    pack = HPacker(children=boxes, align='baseline', pad=0, sep=0)
    box = AnchoredOffsetbox(loc='lower right', child=pack, frameon=False, pad=0,
                            borderpad=0, bbox_to_anchor=(0.95, 0.05), bbox_transform=ax.transAxes)
    ax.add_artist(box)


caption(ax_sne, [('FB', True), ('-', True), ('SN', True), ('E', False)])
caption(ax_durr, [('FB', True), ('-', True), ('D', True), ('URR', False)])
caption(ax_bier, [('FB', True), ('-', True), ('B', True), ('IER', False)])
caption(ax_cosmo, [('FB', True), ('-', True), ('COSMO', False)])

legend_star = ax_cosmo.scatter([], [], marker='*', s=230, c='#1f77b4', edgecolors='k', linewidths=1.8,
                               label='zoom-in runs')
ax_cosmo.legend(handles=[legend_star], loc='center left', bbox_to_anchor=(0.095, 0.5), frameon=False,
                prop={'family': 'DejaVu Sans', 'size': 19}, handletextpad=1.25, borderpad=0, borderaxespad=0,
                scatterpoints=1)

cb = fig.colorbar(ScalarMappable(norm=norm, cmap='viridis'), cax=cax)
cb.set_ticks([7, 8, 9, 10, 11, 12, 13])
cb.set_ticklabels(['$7$', '$8$', '$9$', '$10$', '$11$', '$12$', '$13$'])
cb.ax.yaxis.set_minor_locator(MultipleLocator(0.2))
cb.ax.tick_params(which='major', direction='in', length=6.5, width=1.2, labelsize=24, pad=6)
cb.ax.tick_params(which='minor', direction='in', length=3.2, width=0.8)
cb.outline.set_linewidth(1.3)
cb.set_label(r'$\log(M_{\rm gas})\,[h^{-1}M_{\odot}]$', fontsize=30.5, labelpad=6)

fig.savefig('out.png', dpi=100)
